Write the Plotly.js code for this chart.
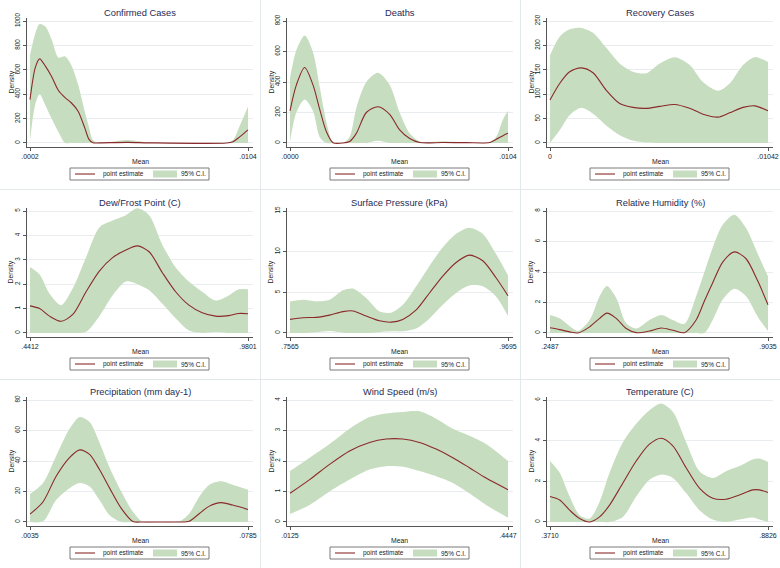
<!DOCTYPE html>
<html>
<head>
<meta charset="utf-8">
<script src="https://cdn.plot.ly/plotly-3.0.1.min.js"></script>
<style>html,body{margin:0;padding:0;background:#fff;}#chart{width:780px;height:568px;}</style>
</head>
<body>
<div id="chart"></div>
<script>
// ---------- data ----------
const titles = ["Confirmed Cases","Deaths","Recovery Cases","Dew/Frost Point (C)","Surface Pressure (kPa)","Relative Humidity (%)","Precipitation (mm day-1)","Wind Speed (m/s)","Temperature (C)"];

const confX   = [.0002,.00045,.00065,.00092,.00121,.00153,.00184,.00213,.00245,.00276,.00296,.00315,.00346,.00479,.00580,.00939,.00970,.01001,.0104];
const confEst = [356,620,690,630,545,430,372,330,260,125,30,1,1,5,1,0,10,50,107];
const confLo  = [22,320,400,310,200,90,0,0,0,0,0,0,0,0,0,0,0,0,0];
const confHi  = [720,900,975,955,850,700,710,640,480,260,130,22,3,25,3,0,25,140,300];

const deathX   = [0,.000302,.000700,.001097,.001415,.001733,.002051,.002528,.002847,.003164,.003642,.004198,.004755,.005232,.005709,.006186,.007299,.008412,.009525,.009843,.010161,.0104];
const deathEst = [211,380,495,381,222,75,2,0,10,63,200,238,188,86,29,3,3,2,3,25,48,63];
const deathLo  = [7,200,285,210,40,0,0,0,0,0,0,14,0,0,0,0,0,0,0,0,0,0];
const deathHi  = [426,608,705,596,370,140,7,0,41,230,400,460,381,200,63,10,11,3,3,41,154,211];

const recX   = [0,.000462,.000940,.001498,.002055,.002693,.003330,.003967,.004605,.005242,.005959,.006676,.007313,.008030,.008588,.009225,.009783,.01042];
const recEst = [88,122,146,154,144,108,81,73,71,75,79,71,59,53,62,73,76,66];
const recLo  = [0,26,57,72,60,36,16,5,1,0,0,0,0,0,0,0,0,0];
const recHi  = [180,218,233,236,226,195,163,146,143,163,176,160,125,107,122,160,176,166];

const dewX   = [.4412,.4650,.4896,.5183,.5470,.5798,.6126,.6454,.6783,.7070,.7357,.7685,.8013,.8341,.8669,.8997,.9325,.9571,.9801];
const dewEst = [1.11,1.0,0.69,0.48,0.76,1.69,2.54,3.09,3.4,3.57,3.33,2.47,1.69,1.14,0.83,0.69,0.71,0.8,0.79];
const dewLo  = [0,0,0,0,0,0.05,0.69,1.54,2.11,2.0,1.75,1.2,0.6,0.1,0,0.04,0,0,0];
const dewHi  = [2.71,2.4,1.61,1.14,1.83,3.11,4.33,4.61,4.83,5.11,4.83,3.61,2.69,2.11,1.69,1.33,1.54,1.79,1.79];

const presX   = [.7565,.7692,.7822,.7952,.8082,.8180,.8310,.8440,.8554,.8667,.8798,.8928,.9058,.9188,.9318,.9448,.9578,.9695];
const presEst = [1.67,1.88,1.92,2.2,2.63,2.71,2.08,1.5,1.33,1.67,2.83,4.92,7.0,8.67,9.58,8.88,6.79,4.58];
const presLo  = [0,0,0.1,0.25,0.04,0,0,0.1,0.2,0.2,0.54,1.79,3.46,4.92,5.83,5.75,4.5,2.08];
const presHi  = [3.88,4.08,3.88,4.08,5.25,5.46,4.29,2.63,2.5,3.46,5.75,8.25,10.54,12.21,12.96,12.21,9.71,7.08];

const rhX   = [.2487,.2777,.3077,.3327,.3677,.3977,.4196,.4476,.4776,.5076,.5476,.5826,.6176,.6526,.6876,.7125,.7375,.7675,.8025,.8375,.8725,.9035];
const rhEst = [0.34,0.22,0.07,0,0.4,0.96,1.3,0.96,0.29,0.02,0.13,0.33,0.18,0.02,0.85,2.1,3.3,4.65,5.32,4.87,3.42,1.85];
const rhLo  = [0,0,0,0,0,0,0,0,0,0,0,0,0,0,0,0,0.85,2.19,2.9,2.41,1.07,0.13];
const rhHi  = [1.18,0.96,0.45,0.13,0.85,2.41,3.08,2.3,0.63,0.29,0.85,1.18,0.85,0.6,2.41,4.0,5.6,7.1,7.75,6.88,5.2,3.71];

const precX   = [.0035,.0080,.0125,.0171,.0206,.0240,.0274,.0309,.0349,.0389,.0423,.0480,.0549,.0583,.0618,.0652,.0692,.0732,.0785];
const precEst = [5.1,13.3,30,42.2,47.3,44.4,34.4,22.2,8.9,0.3,0,0,0,0.5,5.6,10.4,12.7,11.1,8.2];
const precLo  = [0,0.4,14.4,22.2,25.6,23.3,14.4,4.4,0,0,0,0,0,0,0,0,0,0,0];
const precHi  = [18.4,25.6,43.3,61.1,68.9,65.6,52.2,35.6,20,6.7,0,0,0.4,5.6,16.7,24.4,26.7,24.4,21.1];

const windX   = [.0125,.0514,.0910,.1306,.1702,.2032,.2362,.2692,.3022,.3352,.3682,.4012,.4447];
const windEst = [0.94,1.39,1.89,2.33,2.61,2.72,2.72,2.61,2.39,2.11,1.78,1.44,1.06];
const windLo  = [0.26,0.56,1.0,1.39,1.72,1.83,1.81,1.67,1.5,1.28,0.94,0.56,0.14];
const windHi  = [1.67,2.11,2.56,3.06,3.44,3.56,3.61,3.63,3.39,3.06,2.83,2.56,2.0];

const tempX   = [.3710,.3937,.4171,.4405,.4640,.4874,.5108,.5421,.5733,.6045,.6319,.6592,.6905,.7217,.7529,.7842,.8154,.8467,.8623,.8826];
const tempEst = [1.25,1.08,0.58,0.17,0,0.25,0.83,1.92,3.0,3.83,4.12,3.75,2.67,1.67,1.17,1.12,1.33,1.58,1.58,1.45];
const tempLo  = [0,0,0,0,0,0,0,0.25,1.25,2.08,2.33,2.17,1.42,0.58,0.12,0,0.12,0.22,0.12,0];
const tempHi  = [3.0,2.42,1.25,0.33,0.17,1.0,2.42,3.92,4.83,5.5,5.83,5.42,3.92,2.5,2.17,2.5,2.75,3.08,3.12,2.95];

const xTickVals = [[.0002,.0104],[0,.0104],[0,.01042],[.4412,.9801],[.7565,.9695],[.2487,.9035],[.0035,.0785],[.0125,.4447],[.3710,.8826]];
const xTickText = [[".0002",".0104"],[".0000",".0104"],["0",".01042"],[".4412",".9801"],[".7565",".9695"],[".2487",".9035"],[".0035",".0785"],[".0125",".4447"],[".3710",".8826"]];
const yTop  = [1000,800,250,5,15,8,80,4,6];
const yStep = [200,200,50,1,5,2,20,1,2];

const xLabel = "Mean", yLabel = "Density";
const legendNames = ["point estimate","95% C.I."];

// ---------- build ----------
const series = [
  [confX,confEst,confLo,confHi],[deathX,deathEst,deathLo,deathHi],[recX,recEst,recLo,recHi],
  [dewX,dewEst,dewLo,dewHi],[presX,presEst,presLo,presHi],[rhX,rhEst,rhLo,rhHi],
  [precX,precEst,precLo,precHi],[windX,windEst,windLo,windHi],[tempX,tempEst,tempLo,tempHi]
];

const W = 780, H = 568;
const px = p => p / W, py = p => 1 - p / H;
const lineColor = "#8a2a2a", bandColor = "rgb(199,221,192)";
const FONT = "Liberation Sans, Arial, sans-serif";
const rowTop = [18, 208, 397], plotH = 129;

const traces = [], layout = {
  width: W, height: H, margin: {l:0,r:0,t:0,b:0},
  paper_bgcolor: "#fff", plot_bgcolor: "#fff", showlegend: false,
  font: {family: FONT, color: "#222"},
  shapes: [], annotations: []
};

series.forEach((s, i) => {
  const row = Math.floor(i / 3), col = i % 3;
  const id = i === 0 ? "" : String(i + 1);
  const xa = "x" + id, ya = "y" + id;
  const [X, E, L, U] = s;
  const common = {x: X, xaxis: xa, yaxis: ya, mode: "lines", hoverinfo: "skip", showlegend: false};
  traces.push(Object.assign({}, common, {y: L, line: {width: 0, shape: "spline", smoothing: 0.8}}));
  traces.push(Object.assign({}, common, {y: U, fill: "tonexty", fillcolor: bandColor, line: {width: 0, shape: "spline", smoothing: 0.8}}));
  traces.push(Object.assign({}, common, {y: E, line: {color: lineColor, width: 1.1, shape: "spline", smoothing: 0.8}}));

  const cx = 260 * col;
  const left = cx + 27, right = cx + 253;
  const top = rowTop[row], bottom = top + plotH;
  const xmin = xTickVals[i][0], xmax = xTickVals[i][1], r = xmax - xmin;
  const T = yTop[i];

  layout["xaxis" + id] = {
    domain: [px(left), px(right)], anchor: ya,
    range: [xmin - r * 3 / 218, xmax + r * 5 / 218],
    tickmode: "array", tickvals: xTickVals[i], ticktext: xTickText[i],
    ticks: "outside", ticklen: 3, tickcolor: "#555", tickwidth: 1,
    showline: true, linecolor: "#555", linewidth: 1,
    showgrid: false, zeroline: false, fixedrange: true,
    tickfont: {size: 7, family: FONT, color: "#222"}
  };
  layout["yaxis" + id] = {
    domain: [py(bottom), py(top)], anchor: xa,
    range: [-0.033 * T, 1.025 * T],
    tickmode: "linear", tick0: 0, dtick: yStep[i], tickangle: -90,
    ticks: "outside", ticklen: 3, tickcolor: "#555", tickwidth: 1,
    showline: true, linecolor: "#555", linewidth: 1,
    showgrid: true, gridcolor: "#e9edef", gridwidth: 1, zeroline: false, fixedrange: true,
    tickfont: {size: 6.3, family: FONT, color: "#222"}
  };

  // panel title
  layout.annotations.push({text: titles[i], xref: "paper", yref: "paper", x: px((left + right) / 2), y: py(top - 5.5),
    xanchor: "center", yanchor: "middle", showarrow: false, font: {size: 9.3, family: FONT, color: "#1e2a55"}});
  // axis titles
  layout.annotations.push({text: xLabel, xref: "paper", yref: "paper", x: px((left + right) / 2), y: py(bottom + 14),
    xanchor: "center", yanchor: "middle", showarrow: false, font: {size: 6.8, family: FONT, color: "#222"}});
  layout.annotations.push({text: yLabel, xref: "paper", yref: "paper", x: px(cx + 11), y: py((top + bottom) / 2),
    xanchor: "center", yanchor: "middle", textangle: -90, showarrow: false, font: {size: 6.8, family: FONT, color: "#222"}});

  // legend box
  const lt = bottom + 21, lb = bottom + 33, lm = (lt + lb) / 2;
  layout.shapes.push({type: "rect", xref: "paper", yref: "paper", x0: px(cx + 70), x1: px(cx + 209), y0: py(lb), y1: py(lt),
    line: {color: "#7a7a7a", width: 1}, fillcolor: "#fff"});
  layout.shapes.push({type: "line", xref: "paper", yref: "paper", x0: px(cx + 75), x1: px(cx + 95), y0: py(lm), y1: py(lm),
    line: {color: lineColor, width: 1.1}});
  layout.shapes.push({type: "rect", xref: "paper", yref: "paper", x0: px(cx + 153), x1: px(cx + 177), y0: py(lm + 3.5), y1: py(lm - 3.5),
    line: {width: 0}, fillcolor: bandColor});
  layout.annotations.push({text: legendNames[0], xref: "paper", yref: "paper", x: px(cx + 101), y: py(lm),
    xanchor: "left", yanchor: "middle", showarrow: false, font: {size: 6.5, family: FONT, color: "#222"}});
  layout.annotations.push({text: legendNames[1], xref: "paper", yref: "paper", x: px(cx + 179), y: py(lm),
    xanchor: "left", yanchor: "middle", showarrow: false, font: {size: 6.5, family: FONT, color: "#222"}});
});

// panel separators
[260.5, 520.5].forEach(v => layout.shapes.push({type: "line", xref: "paper", yref: "paper", x0: px(v), x1: px(v), y0: 0, y1: 1, line: {color: "#e3e8ea", width: 1}}));
[189.5, 379.5].forEach(v => layout.shapes.push({type: "line", xref: "paper", yref: "paper", x0: 0, x1: 1, y0: py(v), y1: py(v), line: {color: "#e3e8ea", width: 1}}));

Plotly.newPlot("chart", traces, layout, {staticPlot: true, displayModeBar: false});
</script>
</body>
</html>
